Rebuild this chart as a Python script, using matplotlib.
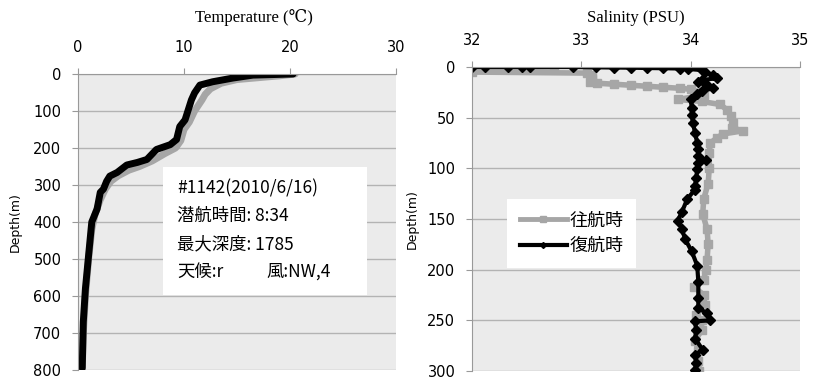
import matplotlib
matplotlib.use("Agg")
import matplotlib.pyplot as plt
from matplotlib.lines import Line2D
from matplotlib.patches import Rectangle

# 水温プロファイル (往航時=灰, 復航時=黒)
temp_depth_out = [0, 5, 10, 15, 25, 40, 55, 70, 100, 130, 150, 180, 200, 215,
                  235, 250, 260, 275, 290, 310, 340, 380, 420, 500, 600, 700, 800]
temp_out = [20.5, 19.0, 17.0, 15.0, 13.5, 12.5, 12.0, 11.7, 11.0, 10.5, 10.0,
            9.7, 9.2, 8.2, 7.0, 5.8, 4.8, 3.8, 3.1, 2.6, 2.1, 1.6, 1.3, 1.0,
            0.7, 0.5, 0.4]
temp_depth_back = [0, 3, 11, 21, 30, 51, 70, 97, 124, 142, 177, 191, 204, 231,
                   239, 246, 266, 276, 290, 311, 320, 365, 400, 490, 580, 670, 795]
temp_back = [20.3, 16.5, 14.6, 12.7, 11.5, 11.0, 10.7, 10.4, 10.1, 9.6, 9.3,
             8.7, 7.4, 6.5, 5.6, 4.6, 3.7, 3.0, 2.7, 2.4, 2.1, 1.8, 1.3, 1.0,
             0.7, 0.5, 0.4]

# 塩分プロファイル
sal_depth_out = [0, 0, 5, 6, 8, 12, 15, 16, 17, 18, 19, 20, 21, 22, 25, 28, 32,
                 34, 37, 42, 48, 55, 60, 63, 66, 70, 75, 85, 100, 115, 130, 145,
                 160, 175, 190, 200, 210, 217, 225, 235, 245, 250, 260, 270,
                 280, 290, 300]
sal_out = [32.75, 32.2, 32.0, 33.05, 33.1, 33.1, 33.08, 33.14, 33.3, 33.45,
           33.6, 33.75, 33.9, 34.0, 34.1, 34.12, 33.88, 34.1, 34.27, 34.33,
           34.37, 34.39, 34.38, 34.48, 34.3, 34.24, 34.18, 34.17, 34.17, 34.16,
           34.12, 34.11, 34.15, 34.16, 34.15, 34.14, 34.12, 34.03, 34.12, 34.13,
           34.05, 34.1, 34.1, 34.04, 34.07, 34.07, 34.08]
sal_depth_back = [0, 0, 0, 0, 0, 0, 0.3, 0.5, 0.7, 1, 1.2, 1.5, 2, 3, 5, 8, 11,
                  13, 15, 18, 21, 24, 27, 32, 40, 47, 55, 65, 75, 81, 88, 92,
                  95, 101, 110, 117, 121, 130, 143, 152, 160, 170, 182, 196,
                  212, 228, 238, 243, 250, 251, 260, 268, 279, 284, 292, 299]
sal_back = [32.0, 32.12, 32.33, 32.46, 32.53, 32.92, 33.13, 33.3, 33.45, 33.6,
            33.75, 33.9, 33.98, 34.1, 34.13, 34.2, 34.24, 34.1, 34.07, 34.15,
            34.2, 34.1, 34.06, 34.0, 34.01, 34.01, 34.02, 34.04, 34.06, 34.07,
            34.07, 34.14, 34.07, 34.06, 34.05, 34.04, 34.04, 33.97, 33.92,
            33.88, 33.92, 33.95, 34.01, 34.06, 34.07, 34.07, 34.07, 34.15,
            34.18, 34.04, 34.05, 34.04, 34.11, 34.04, 34.05, 34.04]

series_labels = ["往航時", "復航時"]
info_lines = ["#1142(2010/6/16)", "潜航時間: 8:34", "最大深度: 1785"]
weather = ["天候:r", "風:NW,4"]

GRAY = "#a6a6a6"
BG = "#ebebeb"
GRID = "#b3b3b3"
AXC = "#999999"
CJK = ["Noto Sans CJK JP", "DejaVu Sans"]
SERIF = ["Liberation Serif", "DejaVu Serif", "Noto Sans CJK JP"]

W, H = 819, 379
fig = plt.figure(figsize=(W / 100, H / 100), dpi=100)


def px_axes(x0, y0, x1, y1):
    return fig.add_axes([x0 / W, 1 - y1 / H, (x1 - x0) / W, (y1 - y0) / H])


def style(ax, xlim, xticks, ylim, yticks):
    ax.set_facecolor(BG)
    ax.set_xlim(*xlim)
    ax.set_ylim(ylim[1], ylim[0])
    ax.set_xticks(xticks)
    ax.set_yticks(yticks)
    ax.xaxis.tick_top()
    ax.yaxis.grid(True, color=GRID, lw=1)
    ax.set_axisbelow(True)
    for s in ("right", "bottom"):
        ax.spines[s].set_visible(False)
    for s in ("left", "top"):
        ax.spines[s].set_color(AXC)
    ax.tick_params(axis="both", direction="out", length=4, color=AXC,
                   labelsize=10.5)
    ax.tick_params(axis="x", pad=10)
    ax.tick_params(axis="y", pad=8)


# 左: 水温
ax1 = px_axes(78, 74, 396, 370)
style(ax1, (0, 30), [0, 10, 20, 30], (0, 800), range(0, 801, 100))
ax1.plot(temp_out, temp_depth_out, color=GRAY, lw=5, solid_capstyle="round",
         solid_joinstyle="round")
ax1.plot(temp_back, temp_depth_back, color="black", lw=5,
         solid_capstyle="round", solid_joinstyle="round")
ax1.set_ylabel("Depth(m)", fontsize=9, labelpad=8)
fig.text(254 / W, 1 - 18 / H, "Temperature (℃)", ha="center", va="center",
         family=SERIF, fontsize=12)

ax1.add_patch(Rectangle((0.267, 0.252), 0.642, 0.433, transform=ax1.transAxes,
                        facecolor="white", edgecolor="none", zorder=5))
for i, line in enumerate(info_lines):
    ax1.text(0.311, 0.614 - i * 0.094, line, transform=ax1.transAxes,
             family=CJK, fontsize=12.5, va="center", zorder=6)
ax1.text(0.311, 0.332, weather[0], transform=ax1.transAxes, family=CJK,
         fontsize=12.5, va="center", zorder=6)
ax1.text(0.594, 0.332, weather[1], transform=ax1.transAxes, family=CJK,
         fontsize=12.5, va="center", zorder=6)

# 右: 塩分
ax2 = px_axes(472, 67, 800, 371)
style(ax2, (32, 35), [32, 33, 34, 35], (0, 300), range(0, 301, 50))
ax2.plot(sal_out, sal_depth_out, color=GRAY, lw=4, marker="s", ms=6,
         solid_joinstyle="round")
ax2.plot(sal_back, sal_depth_back, color="black", lw=3, marker="D", ms=5,
         solid_joinstyle="round")
ax2.set_ylabel("Depth(m)", fontsize=9, labelpad=6)
fig.text(636 / W, 1 - 18 / H, "Salinity (PSU)", ha="center", va="center",
         family=SERIF, fontsize=12)

handles = [Line2D([], [], color=GRAY, lw=3.5, marker="s", ms=4),
           Line2D([], [], color="black", lw=3, marker="D", ms=3)]
leg = ax2.legend(handles, series_labels, loc="upper left",
                 bbox_to_anchor=(507 / W, 1 - 199 / H),
                 bbox_transform=fig.transFigure, prop={"family": CJK, "size": 13},
                 fancybox=False, frameon=True, handlelength=2.6,
                 handletextpad=0.15, labelspacing=0.4, borderpad=0.7,
                 borderaxespad=0)
leg.get_frame().set_facecolor("white")
leg.get_frame().set_edgecolor("none")
leg.get_frame().set_alpha(1)

fig.savefig("out.png", dpi=100)
